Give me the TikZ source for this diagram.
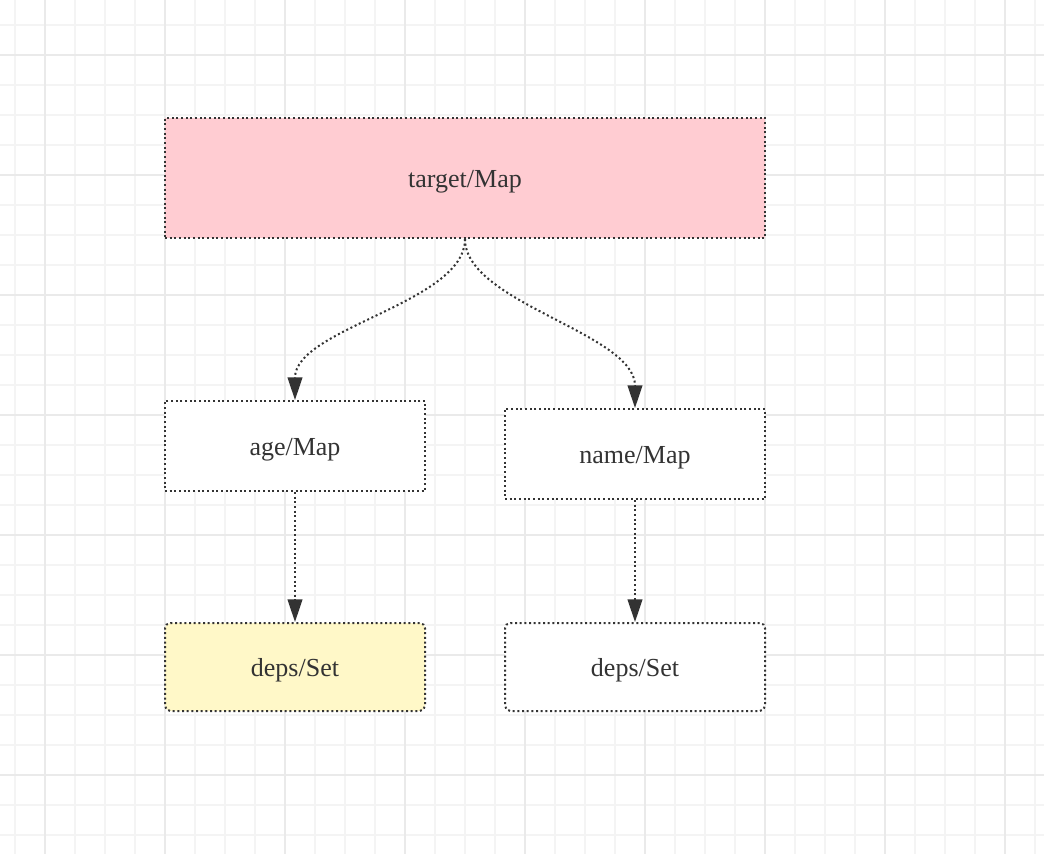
\documentclass[tikz,border=0pt]{standalone}
\usepackage{fontspec}
\setmainfont{Liberation Serif}
\usetikzlibrary{arrows.meta}

\definecolor{inkgray}{RGB}{51,51,51}
\definecolor{gridminor}{RGB}{244,244,244}
\definecolor{gridmajor}{RGB}{234,234,234}
\definecolor{mappink}{RGB}{255,204,210}
\definecolor{setyellow}{RGB}{255,248,200}

\tikzset{every picture/.style={line width=0.75pt}}
\tikzset{
  minorline/.style={draw=gridminor, line width=1.5pt},
  majorline/.style={draw=gridmajor, line width=1.9pt},
  mapbox/.style={draw=inkgray, dash pattern={on 1.5pt off 2pt}, line width=1.5pt,
    text=inkgray, font=\fontsize{19.5}{23}\selectfont, inner sep=0pt,
    text height=13.5pt, text depth=0pt},
  setbox/.style={mapbox, rounded corners=4pt},
  link/.style={draw=inkgray, dash pattern={on 1.5pt off 2pt}, line width=1.5pt,
    -{Triangle[length=17pt,width=11pt]}, inkgray}
}

\begin{document}
\begin{tikzpicture}[x=0.75pt,y=0.75pt,yscale=-1,xscale=1]
\useasboundingbox (0,0) rectangle (1044,854);
\fill[white] (0,0) rectangle (1044,854);

%Grid
\foreach \x in {15,45,...,1035} \draw[minorline] (\x,0) -- (\x,854);
\foreach \y in {25,55,...,845} \draw[minorline] (0,\y) -- (1044,\y);
\foreach \x in {45,165,...,1005} \draw[majorline] (\x,0) -- (\x,854);
\foreach \y in {55,175,...,775} \draw[majorline] (0,\y) -- (1044,\y);

%Boxes
\node [mapbox, fill=mappink, minimum width=450pt, minimum height=90pt] (target) at (465,178) {target/Map};
\node [mapbox, fill=white, minimum width=195pt, minimum height=67.5pt] (age) at (295,446) {age/Map};
\node [mapbox, fill=white, minimum width=195pt, minimum height=67.5pt] (name) at (635,454) {name/Map};
\node [setbox, fill=setyellow, minimum width=195pt, minimum height=66pt] (agedeps) at (295,667) {deps/Set};
\node [setbox, fill=white, minimum width=195pt, minimum height=66pt] (namedeps) at (635,667) {deps/Set};

%Links
\draw [link] (target.south) .. controls +(0,64) and +(0,-72) .. (age.north);
\draw [link] (target.south) .. controls +(0,64) and +(0,-75) .. (name.north);
\draw [link] (age.south) -- (agedeps.north);
\draw [link] (name.south) -- (namedeps.north);

\end{tikzpicture}
\end{document}
